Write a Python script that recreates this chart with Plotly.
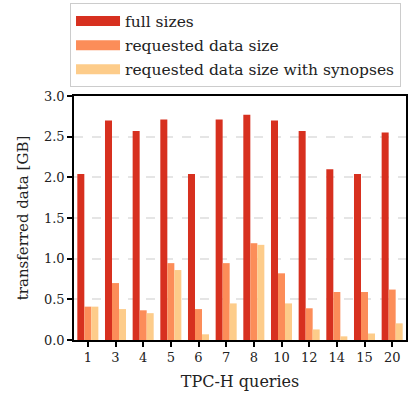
import plotly.graph_objects as go

queries = ["1", "3", "4", "5", "6", "7", "8", "10", "12", "14", "15", "20"]
full_sizes = [2.04, 2.70, 2.57, 2.71, 2.04, 2.71, 2.77, 2.70, 2.57, 2.10, 2.04, 2.55]
requested = [0.41, 0.70, 0.365, 0.945, 0.38, 0.945, 1.19, 0.82, 0.39, 0.59, 0.59, 0.62]
with_synopses = [0.41, 0.38, 0.33, 0.86, 0.07, 0.45, 1.17, 0.45, 0.13, 0.045, 0.08, 0.205]
y_ticks = [0.0, 0.5, 1.0, 1.5, 2.0, 2.5, 3.0]
series_names = ["full sizes", "requested data size", "requested data size with synopses"]
colors = ["#d7301f", "#fc8d59", "#fdcc8a"]

FONT = "DejaVu Serif"

fig = go.Figure()
for name, vals, col in zip(series_names, [full_sizes, requested, with_synopses], colors):
    fig.add_trace(go.Bar(name=name, x=queries, y=vals, legendgroup=name, showlegend=False,
                         marker=dict(color=col, line=dict(width=0))))
# legend entries drawn as wide colour patches
for name, col in zip(series_names, colors):
    fig.add_trace(go.Scatter(name=name, x=[None], y=[None], mode="lines", legendgroup=name,
                             line=dict(color=col, width=12), showlegend=True))

fig.update_layout(
    width=409, height=395,
    margin=dict(l=74, r=3, t=96, b=55, autoexpand=False),
    barmode="group", bargap=0.24, bargroupgap=0,
    plot_bgcolor="white", paper_bgcolor="white",
    font=dict(family=FONT, size=13, color="#222"),
    legend=dict(
        x=-0.012, xanchor="left", y=1.035, yanchor="bottom",
        bordercolor="#cccccc", borderwidth=1,
        font=dict(family=FONT, size=15.5, color="#222"),
        tracegroupgap=1, itemwidth=44,
    ),
    xaxis=dict(
        type="category", title=dict(text="TPC-H queries", font=dict(size=16), standoff=11),
        showline=True, linecolor="black", linewidth=1.5, mirror=True,
        ticks="outside", ticklen=5, tickcolor="black", tickwidth=1.5,
        tickfont=dict(size=13), range=[-0.5, 11.5],
    ),
    yaxis=dict(
        title=dict(text="transferred data [GB]", font=dict(size=15), standoff=12),
        range=[0, 3.0], tickvals=y_ticks, ticktext=[f"{v:.1f}" for v in y_ticks],
        showline=True, linecolor="black", linewidth=1.5, mirror=True,
        ticks="outside", ticklen=5, tickcolor="black", tickwidth=1.5,
        tickfont=dict(size=13),
        showgrid=True, gridcolor="#e5e5e5", griddash="dash", gridwidth=1.5,
        zeroline=False,
    ),
)

fig.write_html("out.html", config={"displayModeBar": False},
               post_script="document.body.style.margin='0';document.body.style.overflow='hidden';")
